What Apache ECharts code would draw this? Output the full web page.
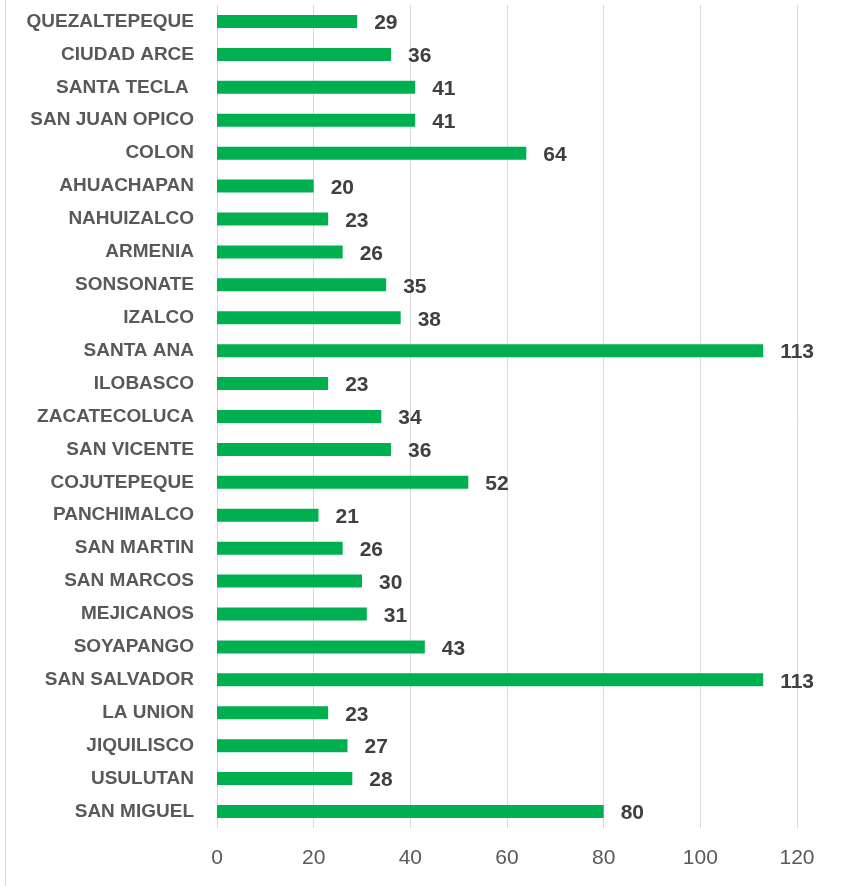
<!DOCTYPE html>
<html><head><meta charset="utf-8">
<script src="https://cdn.jsdelivr.net/npm/echarts@6/dist/echarts.min.js"></script>
<style>html,body{margin:0;padding:0;background:#fff}#c{width:841px;height:886px}</style>
</head><body><div id="c"></div>
<script>
const categories = ["QUEZALTEPEQUE","CIUDAD ARCE","SANTA TECLA ","SAN JUAN OPICO","COLON","AHUACHAPAN","NAHUIZALCO","ARMENIA","SONSONATE","IZALCO","SANTA ANA","ILOBASCO","ZACATECOLUCA","SAN VICENTE","COJUTEPEQUE","PANCHIMALCO","SAN MARTIN","SAN MARCOS","MEJICANOS","SOYAPANGO","SAN SALVADOR","LA UNION","JIQUILISCO","USULUTAN","SAN MIGUEL"];
const values = [29,36,41,41,64,20,23,26,35,38,113,23,34,36,52,21,26,30,31,43,113,23,27,28,80];
const chart = echarts.init(document.getElementById('c'));
const font = '"Liberation Sans", Arial, sans-serif';
chart.setOption({
  animation:false,
  backgroundColor:'#fff',
  graphic:[{type:'line',shape:{x1:5.5,y1:0,x2:5.5,y2:886},style:{stroke:'#d9d9d9',lineWidth:1}}],
  grid:{left:217,right:44,top:5,bottom:58,containLabel:false},
  xAxis:{type:'value',min:0,max:120,interval:20,
    axisLine:{show:false},axisTick:{show:false},
    splitLine:{lineStyle:{color:'#d9d9d9',width:1}},
    axisLabel:{color:'#595959',fontSize:21,fontFamily:font,margin:20}},
  yAxis:{type:'category',data:categories,inverse:true,
    axisLine:{show:false},axisTick:{show:false},
    axisLabel:{color:'#595959',fontSize:19,fontWeight:'bold',fontFamily:font,margin:23}},
  series:[{type:'bar',data:values,barWidth:13,
    itemStyle:{color:'#00b050'},
    label:{show:true,position:'right',distance:17,offset:[0,2],color:'#404040',fontSize:21,fontWeight:'bold',fontFamily:font}}]
});
</script></body></html>
